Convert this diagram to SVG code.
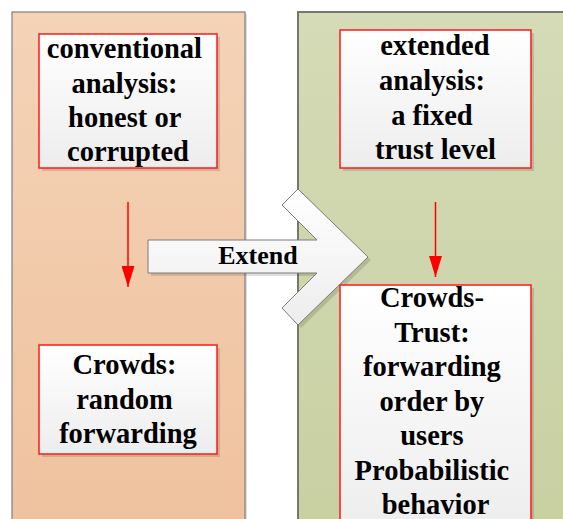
<svg xmlns="http://www.w3.org/2000/svg" width="563" height="519" viewBox="0 0 563 519">
  <defs>
    <linearGradient id="peach" x1="0" y1="0" x2="0" y2="1">
      <stop offset="0" stop-color="#F4D3B7"/>
      <stop offset="1" stop-color="#EFC29E"/>
    </linearGradient>
    <linearGradient id="olive" x1="0" y1="0" x2="0" y2="1">
      <stop offset="0" stop-color="#D4DBB6"/>
      <stop offset="1" stop-color="#C8D0A2"/>
    </linearGradient>
    <linearGradient id="card" x1="0" y1="0" x2="0" y2="1">
      <stop offset="0" stop-color="#FFFFFF"/>
      <stop offset="1" stop-color="#EDEDED"/>
    </linearGradient>
    <marker id="head" viewBox="0 0 21 13" refX="21" refY="6.5" markerWidth="21" markerHeight="13" markerUnits="userSpaceOnUse" orient="auto">
      <path d="M0,0 L21,6.5 L0,13 Z" fill="#FF0000"/>
    </marker>
  </defs>
  <style>
    .label { font-family: 'Liberation Serif', serif; font-weight: bold; font-size: 28.5px; fill: #000; text-anchor: middle; }
    .card { fill: url(#card); stroke: #FF1A1A; stroke-width: 1.5; }
    .shadow { fill: #000; opacity: 0.13; }
    .link { stroke: #FF0000; stroke-width: 1.5; fill: none; }
  </style>

  <rect width="563" height="519" fill="#FFFFFF"/>

  <!-- panels -->
  <g id="panel-conventional">
    <rect x="14" y="14" width="233" height="520" class="shadow"/>
    <rect x="12" y="12" width="233" height="520" fill="url(#peach)" stroke="#7F7F7F" stroke-width="1.2"/>
  </g>
  <g id="panel-extended">
    <rect x="298" y="12" width="280" height="520" fill="url(#olive)" stroke="#77786A" stroke-width="2"/>
  </g>

  <!-- extend arrow -->
  <g id="extend-arrow">
    <polygon points="151,243 320,243 285,208 301,192 371,260 301,328 285,311 320,276 151,276" class="shadow"/>
    <polygon points="148,240 317,240 282,205 298,189 368,257 298,325 282,308 317,273 148,273" fill="url(#card)" stroke="#7A7A7A" stroke-width="1"/>
    <text x="258" y="264" class="label" style="font-size:26px">Extend</text>
  </g>

  <!-- nodes -->
  <g id="node-conventional">
    <rect x="42" y="37" width="178" height="134" class="shadow"/>
    <rect x="39" y="34" width="178" height="134" class="card"/>
    <text class="label">
      <tspan x="128" y="58">conventional</tspan>
      <tspan x="128" y="92.5">analysis:</tspan>
      <tspan x="128" y="127">honest or</tspan>
      <tspan x="128" y="161">corrupted</tspan>
    </text>
  </g>

  <g id="node-crowds">
    <rect x="42" y="348" width="178" height="109" class="shadow"/>
    <rect x="39" y="345" width="178" height="109" class="card"/>
    <text class="label">
      <tspan x="128" y="374">Crowds:</tspan>
      <tspan x="128" y="408.5">random</tspan>
      <tspan x="128" y="443">forwarding</tspan>
    </text>
  </g>

  <g id="node-extended">
    <rect x="343" y="33" width="191" height="138" class="shadow"/>
    <rect x="340" y="30" width="191" height="138" class="card"/>
    <text class="label">
      <tspan x="438.5" y="55">extended</tspan>
      <tspan x="435.5" y="90">analysis:</tspan>
      <tspan x="435.5" y="125">a fixed</tspan>
      <tspan x="435.5" y="159">trust level</tspan>
    </text>
  </g>

  <g id="node-crowds-trust">
    <rect x="343" y="288" width="191" height="250" class="shadow"/>
    <rect x="340" y="285" width="191" height="250" class="card"/>
    <text class="label">
      <tspan x="435.5" y="307">Crowds-</tspan>
      <tspan x="435.5" y="342">Trust:</tspan>
      <tspan x="435.5" y="376">forwarding</tspan>
      <tspan x="435.5" y="410.5">order by</tspan>
      <tspan x="435.5" y="445">users</tspan>
      <tspan x="435.5" y="480">Probabilistic</tspan>
      <tspan x="435.5" y="514">behavior</tspan>
    </text>
  </g>

  <!-- connectors -->
  <g id="connectors">
    <line x1="128" y1="202" x2="128" y2="287" class="link" marker-end="url(#head)"/>
    <line x1="435.5" y1="202" x2="435.5" y2="277" class="link" marker-end="url(#head)"/>
  </g>
</svg>
